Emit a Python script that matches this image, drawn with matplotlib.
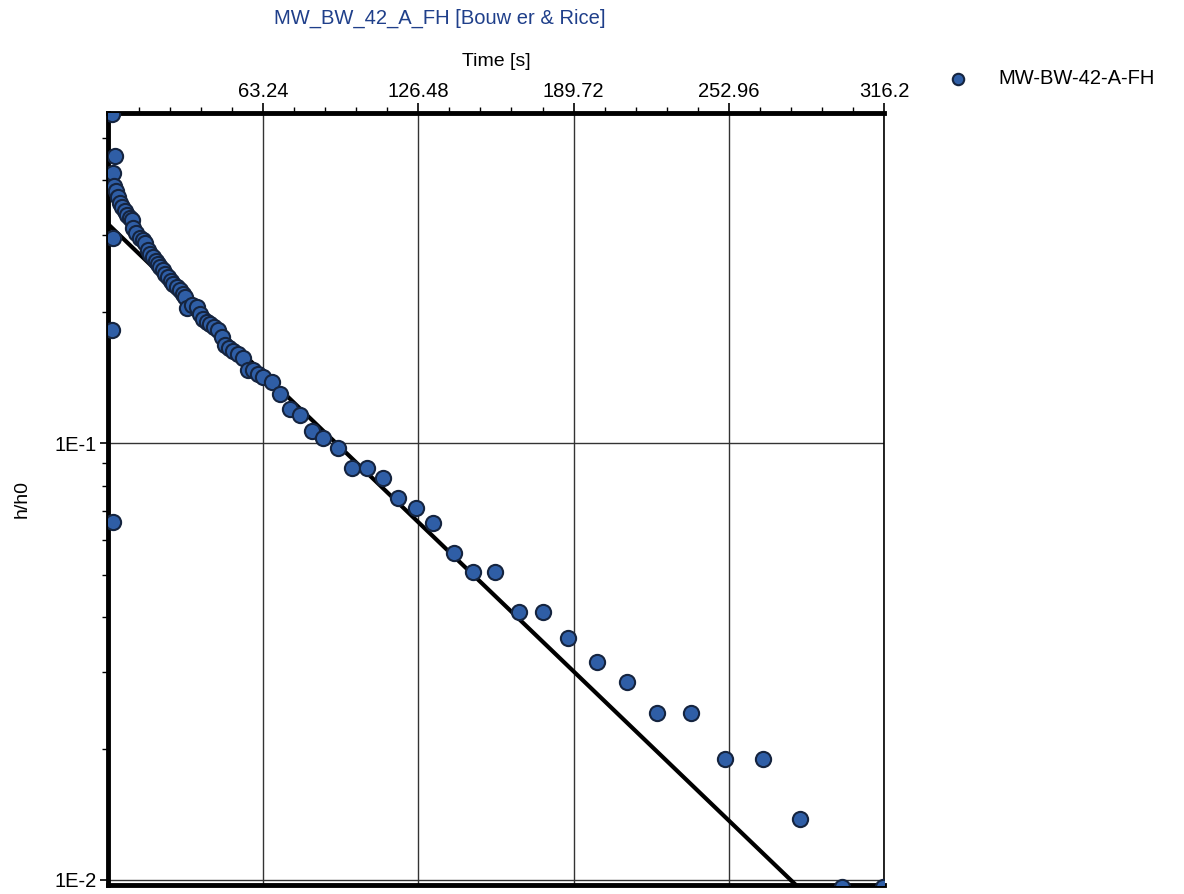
import numpy as np
import matplotlib
matplotlib.use("Agg")
import matplotlib.pyplot as plt
from matplotlib.ticker import FixedLocator, LogLocator, NullFormatter

plt.rcParams['font.family'] = ['Liberation Sans', 'DejaVu Sans']

# measured data (time in s, normalised head h/h0)
t_obs = [1.5, 2.0, 1.6, 2.0, 2.0, 2.9, 2.5,
         3.4, 4.1, 4.9, 5.7, 6.8, 7.8, 8.8, 9.8, 10.2, 11.6, 13.1, 14.1,
         15.1, 16.3, 17.3, 18.4, 19.4, 20.4, 21.4, 22.4, 23.4, 24.5, 25.5,
         26.5, 28.0, 29.4, 30.4, 31.4, 32.2, 34.3, 36.3, 37.5, 38.8, 40.2,
         41.6, 43.3, 44.9, 46.3, 47.7, 49.3, 51.0, 53.0, 55.1, 57.1, 59.2,
         61.2, 63.2, 66.9, 70.2, 74.3, 78.3, 83.2, 87.7, 93.8,
         99.6, 105.7, 112.2, 118.3, 125.7, 132.6, 140.8, 148.9, 157.9,
         167.3, 177.1, 187.3, 199.1, 211.3, 223.6, 237.5, 251.3, 266.8,
         281.9, 299.1, 315.8]
h_obs = [0.569, 0.066, 0.182, 0.295, 0.417, 0.456, 0.389,
         0.378, 0.366, 0.356, 0.347, 0.340, 0.333, 0.328, 0.324, 0.312,
         0.304, 0.296, 0.292, 0.288, 0.277, 0.272, 0.267, 0.262, 0.258,
         0.253, 0.249, 0.244, 0.240, 0.236, 0.232, 0.228, 0.224, 0.220,
         0.216, 0.204, 0.207, 0.205, 0.198, 0.193, 0.190, 0.188, 0.185,
         0.182, 0.175, 0.168, 0.165, 0.163, 0.160, 0.157, 0.147, 0.147,
         0.144, 0.142, 0.138, 0.130, 0.120, 0.116, 0.107, 0.103, 0.0974,
         0.0877, 0.0877, 0.0832, 0.0748, 0.0710, 0.0656, 0.0560, 0.0507,
         0.0507, 0.0410, 0.0410, 0.0358, 0.0315, 0.0284, 0.0241, 0.0241,
         0.0189, 0.0189, 0.0138, 0.00964, 0.00964]

# Bouwer & Rice straight-line fit (end points)
t_fit = [0.0, 280.3]
h_fit = [0.318, 0.00974]

x_ticks = [63.24, 126.48, 189.72, 252.96, 316.2]
x_tick_labels = ['63.24', '126.48', '189.72', '252.96', '316.2']

fig = plt.figure(figsize=(11.84, 8.94), dpi=100)
ax = fig.add_axes([0.0912, 0.0101, 0.6554, 0.8635])

ax.set_yscale('log')
ax.set_xlim(0, 316.2)
ax.set_ylim(0.00974, 0.571)

ax.plot(t_fit, h_fit, color='black', lw=3, zorder=3)
ax.scatter(t_obs, h_obs, s=120, facecolor='#2f5ea6', edgecolor='#15243f',
           linewidth=1.5, zorder=4, clip_on=True, label='MW-BW-42-A-FH')

# grid
ax.xaxis.set_major_locator(FixedLocator(x_ticks))
ax.xaxis.set_minor_locator(FixedLocator(
    [v for i in range(5) for v in np.linspace(63.24 * i, 63.24 * (i + 1), 6)[1:-1]]))
ax.set_xticklabels(x_tick_labels)
ax.grid(True, which='major', color='#333333', lw=1)

ax.xaxis.tick_top()
ax.xaxis.set_label_position('top')
ax.tick_params(axis='x', which='major', direction='out', length=7, width=1.2,
               labelsize=14.5, pad=2, top=True, bottom=False)
ax.tick_params(axis='x', which='minor', direction='out', length=4, width=1,
               top=True, bottom=False)
ax.set_xlabel('Time [s]', fontsize=14, labelpad=11)

ax.yaxis.set_major_locator(LogLocator(base=10))
ax.yaxis.set_minor_locator(LogLocator(base=10, subs=np.arange(2, 10)))
ax.yaxis.set_minor_formatter(NullFormatter())
ax.set_yticks([0.01, 0.1])
ax.set_yticklabels(['1E-2', '1E-1'])
ax.tick_params(axis='y', which='major', direction='out', length=6, width=1.2,
               labelsize=14.5, pad=2)
ax.tick_params(axis='y', which='minor', direction='out', length=4, width=1)
ax.set_ylabel('h/h0', fontsize=14, labelpad=17)

for side in ['top', 'left', 'bottom']:
    ax.spines[side].set_linewidth(3.5)
ax.spines['right'].set_linewidth(1.2)

fig.text(0.3716, 0.979, 'MW_BW_42_A_FH [Bouw er & Rice]', color='#1f3f8a',
         fontsize=14.5, ha='center', va='center')

fig.legend(loc='center left', bbox_to_anchor=(0.777, 0.912), frameon=False,
           fontsize=14.5, handletextpad=1.0, markerscale=0.75)

fig.savefig('out.png', dpi=100)
